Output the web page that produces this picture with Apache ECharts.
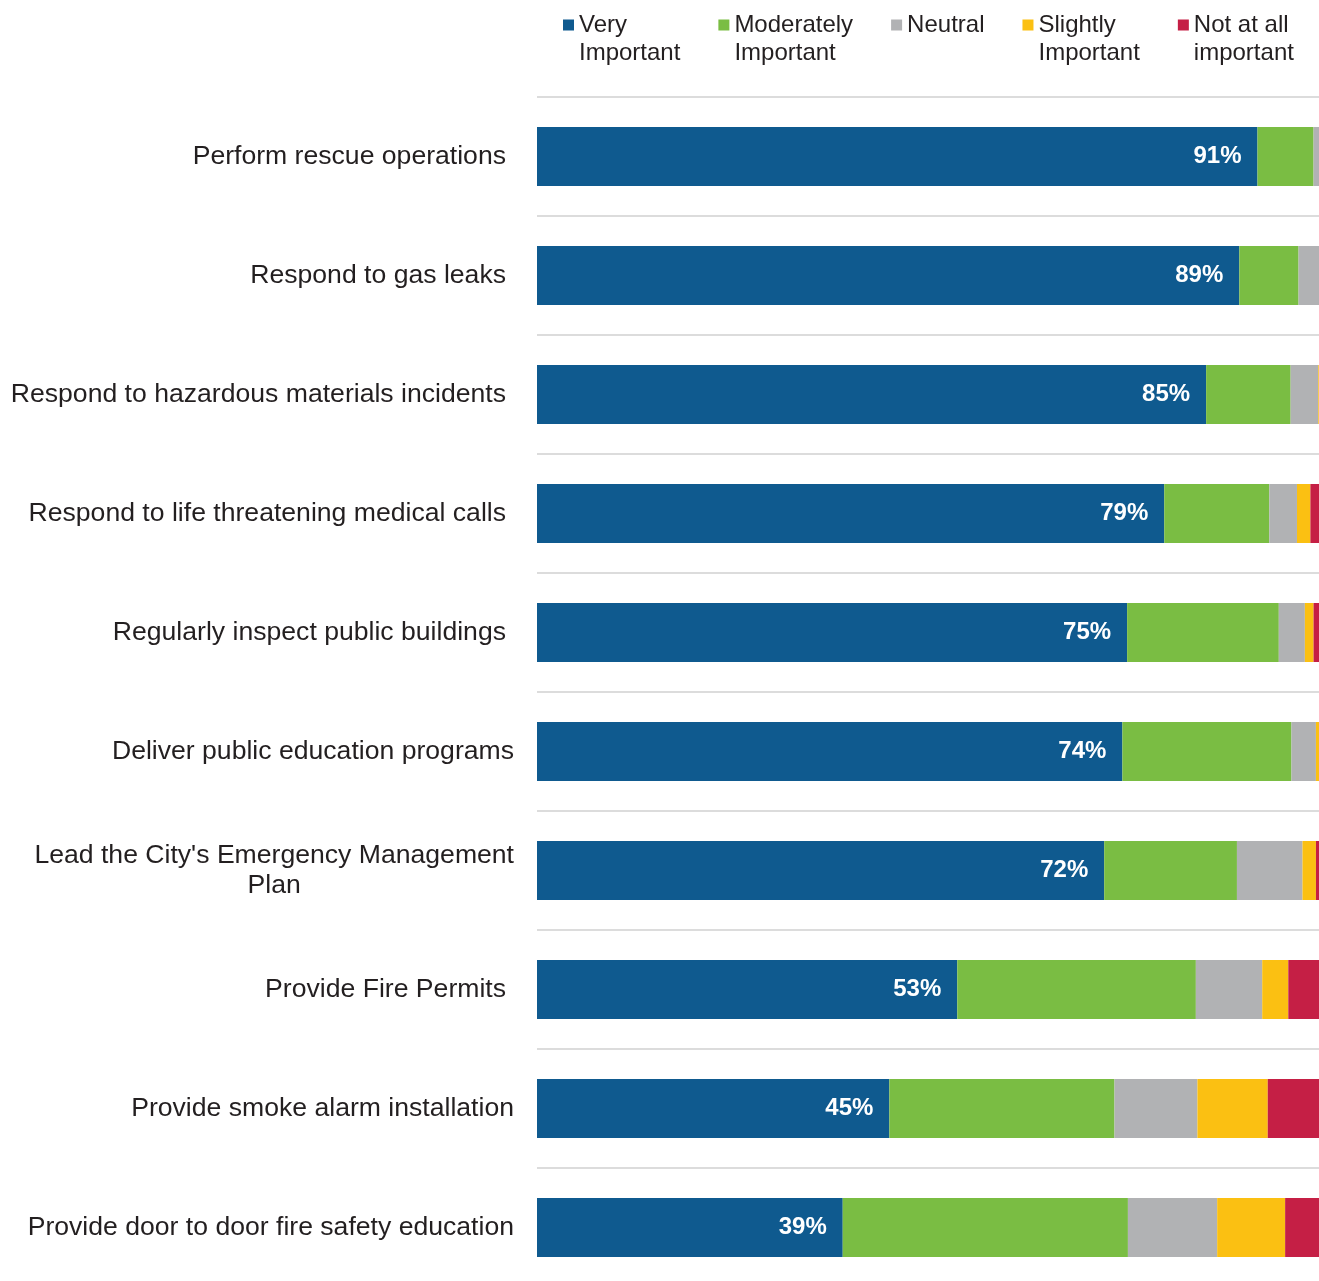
<!DOCTYPE html>
<html>
<head>
<meta charset="utf-8">
<script src="https://cdn.jsdelivr.net/npm/echarts@6/dist/echarts.min.js"></script>
<style>
  body { margin: 0; background: #fff; }
  #main { width: 1319px; height: 1281px; }
</style>
</head>
<body>
<div id="main"></div>
<script>
var categories = [
    'Perform rescue operations',
    'Respond to gas leaks',
    'Respond to hazardous materials incidents',
    'Respond to life threatening medical calls',
    'Regularly inspect public buildings',
    'Deliver public education programs',
    "Lead the City's Emergency Management\nPlan",
    'Provide Fire Permits',
    'Provide smoke alarm installation',
    'Provide door to door fire safety education'
];
var seriesNames = ['Very Important', 'Moderately Important', 'Neutral', 'Slightly Important', 'Not at all important'];
var veryImportant = [91.2, 88.9, 84.7, 79.4, 74.7, 74.1, 71.8, 53.2, 44.6, 38.7];
var moderatelyImportant = [7.1, 7.5, 10.7, 13.3, 19.2, 21.4, 16.8, 30.2, 28.5, 36.1];
var neutral = [1.7, 3.3, 3.5, 3.5, 3.3, 3.1, 8.3, 8.4, 10.5, 11.3];
var slightlyImportant = [0, 0.2, 0.6, 1.7, 1.1, 1.0, 1.7, 3.3, 8.9, 8.6];
var notAtAllImportant = [0, 0.1, 0.5, 2.1, 1.7, 0.4, 1.4, 4.9, 7.5, 5.3];

var colors = ['#0f5a8f', '#7abd43', '#b1b2b4', '#fbc012', '#c51f45'];
var legendText = {
    'Very Important': 'Very\nImportant',
    'Moderately Important': 'Moderately\nImportant',
    'Neutral': 'Neutral\n ',
    'Slightly Important': 'Slightly\nImportant',
    'Not at all important': 'Not at all\nimportant'
};
// labels that sit a bit further from the axis
var padded = [0, 1, 2, 3, 4, 7];

var font = "'Liberation Sans', Arial, sans-serif";
var myChart = echarts.init(document.getElementById('main'));

var values = [veryImportant, moderatelyImportant, neutral, slightlyImportant, notAtAllImportant];
var series = seriesNames.map(function (name, i) {
    var s = {
        name: name,
        type: 'bar',
        stack: 'total',
        barWidth: 59,
        itemStyle: { color: colors[i] },
        data: values[i]
    };
    if (i === 0) {
        s.label = {
            show: true,
            position: 'insideRight',
            distance: 16,
            color: '#fff',
            fontFamily: font,
            fontWeight: 'bold',
            fontSize: 24,
            formatter: function (p) { return Math.round(p.value) + '%'; }
        };
    }
    return s;
});

var option = {
    animation: false,
    color: colors,
    legend: {
        left: 563,
        top: 11,
        padding: 0,
        itemGap: 38,
        itemWidth: 11,
        itemHeight: 56,
        selectedMode: false,
        icon: 'path://M0,8.5L11,8.5L11,19.5L0,19.5Z M0,0L0,0.01 M0,56L0,55.99',
        formatter: function (name) { return legendText[name]; },
        textStyle: { fontFamily: font, fontSize: 24, lineHeight: 28, color: '#231f20' },
        data: seriesNames
    },
    grid: { left: 537, top: 97, width: 790, height: 1190, outerBoundsMode: 'none' },
    xAxis: {
        type: 'value',
        min: 0,
        max: 100,
        show: false,
        splitLine: { show: false }
    },
    yAxis: {
        type: 'category',
        inverse: true,
        data: categories,
        axisLine: { show: false },
        axisTick: { show: false },
        splitLine: { show: true, lineStyle: { color: '#dcdcdc', width: 2 } },
        axisLabel: {
            margin: 23,
            formatter: function (val, idx) {
                var st = padded.indexOf(idx) >= 0 ? 'p' : 'w';
                return val.split('\n').map(function (l) { return '{' + st + '|' + l + '}'; }).join('\n');
            },
            rich: {
                p: { fontFamily: font, fontSize: 26.6, lineHeight: 30, color: '#231f20', padding: [0, 8, 0, 0] },
                w: { fontFamily: font, fontSize: 26.6, lineHeight: 30, color: '#231f20', align: 'center' }
            }
        }
    },
    series: series
};
myChart.setOption(option);
</script>
</body>
</html>
